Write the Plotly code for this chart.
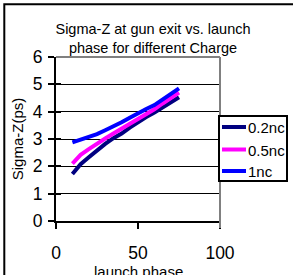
import plotly.graph_objects as go

# ---- data ----
launch_phase = [10, 15, 20, 25, 30, 35, 40, 45, 50, 55, 60, 65, 70, 75]
sigma_02nc = [1.72, 2.08, 2.33, 2.58, 2.82, 3.03, 3.20, 3.42, 3.62, 3.80, 3.97, 4.15, 4.35, 4.53]
sigma_05nc = [2.10, 2.42, 2.63, 2.84, 3.02, 3.20, 3.37, 3.55, 3.73, 3.91, 4.09, 4.30, 4.50, 4.70]
sigma_1nc = [2.88, 2.98, 3.07, 3.18, 3.32, 3.46, 3.61, 3.78, 3.96, 4.10, 4.24, 4.45, 4.65, 4.85]
series_names = ["0.2nc", "0.5nc", "1nc"]
series_colors = ["#000080", "#FF00FF", "#0000FF"]
x_ticks = [0, 50, 100]
y_ticks = [0, 1, 2, 3, 4, 5, 6]
x_title = "launch phase"
y_title = "Sigma-Z(ps)"

FONT = "Liberation Sans, Arial, sans-serif"
W, H = 293, 275
L, R, T, B = 56, 73, 57, 54
PW, PH = W - L - R, H - T - B

def px_x(p):
    return (p - L) / PW

def px_y(p):
    return (H - B - p) / PH

fig = go.Figure()
for name, col, ys in zip(series_names, series_colors, [sigma_02nc, sigma_05nc, sigma_1nc]):
    fig.add_trace(go.Scatter(x=launch_phase, y=ys, mode="lines", name=name,
                             line=dict(color=col, width=4), showlegend=False))

# invisible trace for crossing (inside) y ticks
fig.add_trace(go.Scatter(x=[None], y=[None], yaxis="y2", showlegend=False))

fig.update_layout(
    width=W, height=H,
    margin=dict(l=L, r=R, t=T, b=B, pad=0, autoexpand=False),
    paper_bgcolor="white", plot_bgcolor="white",
    font=dict(family=FONT, color="black"),
    title=dict(text="Sigma-Z at gun exit vs. launch<br>phase for different Charge",
               x=153 / W, xanchor="center", xref="container",
               y=1 - 34 / H, yanchor="top", yref="container",
               font=dict(size=14.5, family=FONT, color="black")),
    xaxis=dict(range=[0, 100], tickvals=x_ticks, ticks="outside", ticklen=6,
               tickwidth=2, tickcolor="black", showline=True, linecolor="black",
               linewidth=2, showgrid=False, zeroline=False, automargin=False,
               tickfont=dict(size=17.5, family=FONT), ticklabelstandoff=9),
    yaxis=dict(range=[0, 6], tickvals=y_ticks, ticks="outside", ticklen=6,
               tickwidth=2, tickcolor="black", showline=True, linecolor="black",
               linewidth=2, showgrid=True, gridcolor="black", gridwidth=1,
               zeroline=False, tickfont=dict(size=17.5, family=FONT),
               ticklabelstandoff=2, automargin=False,
               title=dict(text=y_title, font=dict(size=15, family=FONT), standoff=6)),
    yaxis2=dict(range=[0, 6], tickvals=y_ticks, overlaying="y", side="left",
                ticks="inside", ticklen=5, tickwidth=2, tickcolor="black",
                showticklabels=False, showgrid=False, zeroline=False, showline=False,
                automargin=False),
)

shapes = []
# outer chart border
shapes.append(dict(type="rect", xref="paper", yref="paper",
                   x0=px_x(4.3), x1=px_x(W + 20), y0=px_y(H + 20), y1=px_y(4.3),
                   line=dict(color="black", width=2), fillcolor="rgba(0,0,0,0)", layer="above"))
# gray top & right plot borders
shapes.append(dict(type="line", xref="paper", yref="paper", x0=0, x1=1, y0=1, y1=1,
                   line=dict(color="#808080", width=2), layer="above"))
shapes.append(dict(type="line", xref="paper", yref="paper", x0=1, x1=1, y0=px_y(228), y1=1,
                   line=dict(color="#808080", width=2), layer="above"))

annotations = [dict(text=x_title, xref="paper", yref="paper", x=0.5, y=px_y(271),
                    xanchor="center", yanchor="middle", showarrow=False,
                    font=dict(size=15, family=FONT, color="black"))]

# legend box (drawn manually to match compact key)
shapes.append(dict(type="rect", xref="paper", yref="paper",
                   x0=px_x(219), x1=px_x(287), y0=px_y(181), y1=px_y(116),
                   line=dict(color="black", width=2), fillcolor="white", layer="above"))
legend_rows = [127, 149.5, 171]
for name, col, yy in zip(series_names, series_colors, legend_rows):
    shapes.append(dict(type="line", xref="paper", yref="paper",
                       x0=px_x(222), x1=px_x(246), y0=px_y(yy), y1=px_y(yy),
                       line=dict(color=col, width=4), layer="above"))
    annotations.append(dict(text=name, xref="paper", yref="paper", x=px_x(246), y=px_y(yy + 0.5),
                            xanchor="left", yanchor="middle", showarrow=False,
                            font=dict(size=15, family=FONT, color="black")))

fig.update_layout(shapes=shapes, annotations=annotations)
fig.write_html("out.html", config={"displayModeBar": False},
               post_script="document.body.style.margin='0';document.body.style.padding='0';")
